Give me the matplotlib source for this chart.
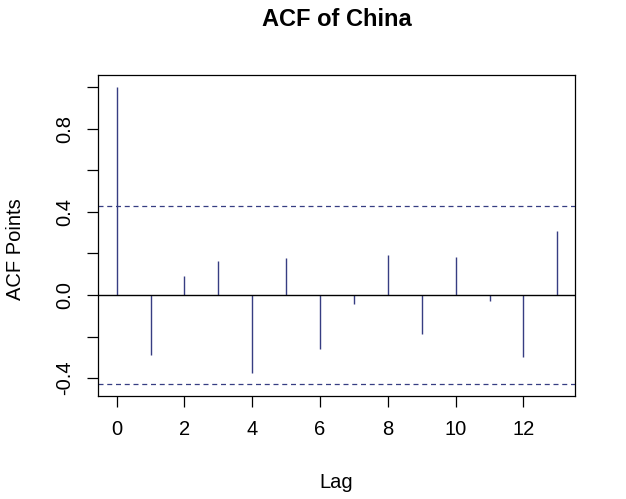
import numpy as np
import matplotlib
matplotlib.use('Agg')
import matplotlib.pyplot as plt

plt.rcParams['font.family'] = ['Liberation Sans', 'DejaVu Sans']

# ACF values
lags = list(range(14))
acf_values = [1.0, -0.291, 0.091, 0.165, -0.373, 0.179, -0.258,
              -0.042, 0.194, -0.190, 0.182, -0.027, -0.296, 0.307]
conf_limit = 0.427
y_ticks = [-0.4, -0.2, 0.0, 0.2, 0.4, 0.6, 0.8, 1.0]
y_labels = ['-0.4', '', '0.0', '', '0.4', '', '0.8', '']
x_ticks = [0, 2, 4, 6, 8, 10, 12]

line_color = '#363d82'

fig = plt.figure(figsize=(6.26, 4.99), dpi=100)
ax = fig.add_axes([0.1565, 0.2064, 0.762, 0.6433])

ax.vlines(lags, 0, acf_values, color=line_color, linewidth=1.0)
ax.axhline(0, color='black', linewidth=1.0)
ax.axhline(conf_limit, color=line_color, linestyle=(0, (4, 3)), linewidth=0.9)
ax.axhline(-conf_limit, color=line_color, linestyle=(0, (4, 3)), linewidth=0.9)

ax.set_xlim(-0.55, 13.52)
ax.set_ylim(-0.486, 1.058)
ax.set_xticks(x_ticks)
ax.set_yticks(y_ticks)
ax.set_yticklabels(y_labels, rotation=90, va='center')
ax.tick_params(axis='both', length=8, width=0.9, labelsize=14.5, pad=9)

for s in ax.spines.values():
    s.set_linewidth(0.9)

# title centred over the plot region, as R does
fig.text(0.5375, 0.96, 'ACF of China', ha='center', va='center',
         fontsize=17, fontweight='bold')
fig.text(0.5375, 0.034, 'Lag', ha='center', va='center', fontsize=14.5)
fig.text(0.025, 0.5, 'ACF Points', ha='center', va='center', rotation=90, fontsize=14.5)

fig.savefig('out.png', dpi=100)
